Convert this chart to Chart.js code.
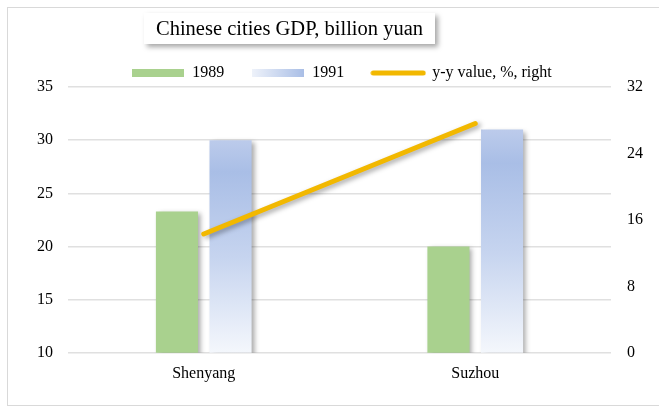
<!DOCTYPE html>
<html>
<head>
<meta charset="utf-8">
<script src="https://cdn.jsdelivr.net/npm/chart.js@4.4.1/dist/chart.umd.min.js"></script>
<style>
  html, body { margin: 0; padding: 0; background: #fff; }
  #wrap { position: relative; width: 659px; height: 407px; overflow: hidden; }
  #frame { position: absolute; left: 7px; top: 7px; width: 670px; height: 397px; border: 1.5px solid #d9d9d9; }
  #title {
    position: absolute; left: 144px; top: 13px; width: 291px; height: 31px;
    background: #fff; box-shadow: 3px 3px 5px rgba(0,0,0,0.35);
    font-family: 'Liberation Serif', 'Times New Roman', serif; font-size: 20.5px;
    line-height: 31px; text-align: center; color: #000;
  }
  canvas { position: absolute; left: 0; top: 0; }
</style>
</head>
<body>
<div id="wrap">
  <div id="frame"></div>
  <canvas id="gdpChart" width="659" height="407"></canvas>
  <div id="title">Chinese cities GDP, billion yuan</div>
</div>
<script>
const categories = ['Shenyang', 'Suzhou'];
const gdp1989 = [23.3, 20.0];
const gdp1991 = [30.0, 31.0];
const yoyValue = [14.3, 27.6];
const leftTicks = [10, 15, 20, 25, 30, 35];
const rightTicks = [0, 8, 16, 24, 32];
const seriesNames = ['1989', '1991', 'y-y value, %, right'];

const green = '#a9d18e';
const gold = '#f2b800';

Chart.defaults.font.family = "'Liberation Serif', 'Times New Roman', serif";
Chart.defaults.font.size = 16;
Chart.defaults.color = '#000';

// legend swatches
function swatch(w, h, paint) {
    const c = document.createElement('canvas');
    c.width = w; c.height = h;
    paint(c.getContext('2d'), w, h);
    return c;
}
const sw1989 = swatch(52, 8, (g, w, h) => { g.fillStyle = green; g.fillRect(0, 0, w, h); });
const sw1991 = swatch(52, 8, (g, w, h) => {
    const gr = g.createLinearGradient(0, 0, w, 0);
    gr.addColorStop(0, '#eef2fa');
    gr.addColorStop(1, '#a9bee6');
    g.fillStyle = gr; g.fillRect(0, 0, w, h);
});
const swLine = swatch(56, 8, (g, w, h) => {
    g.strokeStyle = gold; g.lineWidth = 5; g.lineCap = 'round';
    g.beginPath(); g.moveTo(3, h / 2); g.lineTo(w - 3, h / 2); g.stroke();
});

// legend order: 1989, 1991, line  ->  dataset indexes 1, 2, 0
const legendItems = [
    { name: seriesNames[0], style: sw1989, ds: 1 },
    { name: seriesNames[1], style: sw1991, ds: 2 },
    { name: seriesNames[2], style: swLine, ds: 0 }
];

function blueFill(context) {
    const chart = context.chart;
    if (!chart.chartArea) return '#b4c7e7';
    const y = chart.scales.y;
    const top = y.getPixelForValue(context.dataset.data[context.dataIndex]);
    const bottom = y.getPixelForValue(leftTicks[0]);
    const gr = chart.ctx.createLinearGradient(0, top, 0, bottom);
    gr.addColorStop(0, '#bccbeb');
    gr.addColorStop(0.15, '#a9bee6');
    gr.addColorStop(0.55, '#c6d4ef');
    gr.addColorStop(1, '#f4f7fc');
    return gr;
}

const shadowPlugin = {
    id: 'shadows',
    beforeDatasetDraw(chart) {
        const ctx = chart.ctx;
        ctx.save();
        ctx.shadowColor = 'rgba(0,0,0,0.35)';
        ctx.shadowBlur = 5;
        ctx.shadowOffsetX = 3;
        ctx.shadowOffsetY = 2;
    },
    afterDatasetDraw(chart) {
        chart.ctx.restore();
    }
};

const legendSize = {
    id: 'legendSize',
    beforeLayout(chart) {
        const lg = chart.legend;
        if (lg && !lg._sized) {
            const fit = lg.fit;
            lg.fit = function () {
                fit.call(this);
                this.height = 50;
            };
            lg._sized = true;
        }
    }
};

new Chart(document.getElementById('gdpChart'), {
    data: {
        labels: categories,
        datasets: [
            {
                type: 'line',
                label: seriesNames[2],
                data: yoyValue,
                yAxisID: 'y1',
                borderColor: gold,
                borderWidth: 5,
                borderCapStyle: 'round',
                pointRadius: 0,
                order: 0
            },
            {
                type: 'bar',
                label: seriesNames[0],
                data: gdp1989,
                yAxisID: 'y',
                backgroundColor: green,
                categoryPercentage: 0.395,
                barPercentage: 0.785,
                order: 1
            },
            {
                type: 'bar',
                label: seriesNames[1],
                data: gdp1991,
                yAxisID: 'y',
                backgroundColor: blueFill,
                categoryPercentage: 0.395,
                barPercentage: 0.785,
                order: 1
            }
        ]
    },
    options: {
        responsive: false,
        animation: false,
        layout: { padding: { top: 37, left: 25, right: 0, bottom: 21 } },
        plugins: {
            title: { display: false },
            tooltip: { enabled: false },
            legend: {
                display: true,
                position: 'top',
                labels: {
                    usePointStyle: true,
                    pointStyleWidth: 52,
                    boxHeight: 8,
                    padding: 28,
                    color: '#000',
                    font: { size: 16 },
                    generateLabels() {
                        return legendItems.map(it => ({
                            text: it.name,
                            pointStyle: it.style,
                            datasetIndex: it.ds,
                            hidden: false,
                            lineWidth: 0,
                            strokeStyle: 'rgba(0,0,0,0)',
                            fillStyle: 'rgba(0,0,0,0)'
                        }));
                    }
                }
            }
        },
        scales: {
            x: {
                grid: { display: false },
                border: { display: false },
                ticks: { padding: 3, color: '#000', font: { size: 16 } }
            },
            y: {
                position: 'left',
                min: leftTicks[0],
                max: leftTicks[leftTicks.length - 1],
                ticks: { stepSize: leftTicks[1] - leftTicks[0], padding: 15, color: '#000', font: { size: 16 } },
                grid: { color: '#e0e0e0', lineWidth: 1.5, drawTicks: false },
                border: { display: false },
                afterFit(scale) { scale.width = 43; }
            },
            y1: {
                position: 'right',
                min: rightTicks[0],
                max: rightTicks[rightTicks.length - 1],
                ticks: { stepSize: rightTicks[1] - rightTicks[0], padding: 16, color: '#000', font: { size: 16 } },
                grid: { display: false, drawTicks: false },
                border: { display: false },
                afterFit(scale) { scale.width = 48; }
            }
        }
    },
    plugins: [shadowPlugin, legendSize]
});
</script>
</body>
</html>
